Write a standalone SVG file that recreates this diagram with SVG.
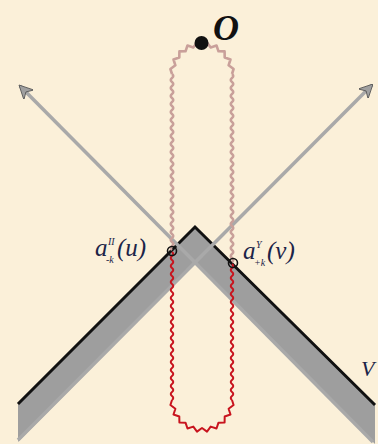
<svg xmlns="http://www.w3.org/2000/svg" width="378" height="444" viewBox="0 0 378 444">
<defs>
<style>
.axis{stroke:#a9a9a9;stroke-width:3.5;fill:none}
.pink{stroke:#c9a09a;stroke-width:2.6;fill:none;stroke-linejoin:round}
.red{stroke:#c8141e;stroke-width:2;fill:none;stroke-linejoin:round}
.lbl{font-family:"Liberation Serif",serif;font-style:italic;fill:#1c2448}
.big{font-size:25px}
.small{font-size:10px}
</style>
<marker id="arr" viewBox="0 0 10 10" refX="9" refY="5" markerWidth="4" markerHeight="4" orient="auto" markerUnits="strokeWidth">
<path d="M0 0 L10 5 L0 10 L3 5 Z" fill="#a0a0a0" stroke="#555" stroke-width="0.6"/>
</marker>
<polyline id="arc" points="-30,0 -31.6,5 -26.6,8.7 -28.5,14.5 -22.7,16.5 -22.6,22.6 -16.5,22.7 -14.5,28.5 -8.7,26.6 -5,31.6 0,28 5,31.6 8.7,26.6 14.5,28.5 16.5,22.7 22.6,22.6 22.7,16.5 28.5,14.5 26.6,8.7 31.6,5 30,0"/>
</defs>
<rect width="378" height="444" fill="#fbf0d9"/>
<g id="wedge">
<polygon points="18,404 195,227 375,405 375,444 195,264 18,442" fill="#9e9e9e"/>
<polyline points="18,404 195,227 375,405" fill="none" stroke="#111" stroke-width="3"/>
</g>
<g id="connectors">
<line class="axis" x1="373" y1="442" x2="20" y2="86" marker-end="url(#arr)"/>
<line class="axis" x1="18" y1="440" x2="372" y2="85" marker-end="url(#arr)"/>
<path class="pink" d="M172 74 q2.5 2 0 4 t0 4 t0 4 t0 4 t0 4 t0 4 t0 4 t0 4 t0 4 t0 4 t0 4 t0 4 t0 4 t0 4 t0 4 t0 4 t0 4 t0 4 t0 4 t0 4 t0 4 t0 4 t0 4 t0 4 t0 4 t0 4 t0 4 t0 4 t0 4 t0 4 t0 4 t0 4 t0 4 t0 4 t0 4 t0 4 t0 4 t0 4 t0 4 t0 4 t0 4 t0 4 t0 4 t0 4"/>
<path class="pink" d="M232 74 q2.5 2 0 4 t0 4 t0 4 t0 4 t0 4 t0 4 t0 4 t0 4 t0 4 t0 4 t0 4 t0 4 t0 4 t0 4 t0 4 t0 4 t0 4 t0 4 t0 4 t0 4 t0 4 t0 4 t0 4 t0 4 t0 4 t0 4 t0 4 t0 4 t0 4 t0 4 t0 4 t0 4 t0 4 t0 4 t0 4 t0 4 t0 4 t0 4 t0 4 t0 4 t0 4 t0 4 t0 4 t0 4 t0 4 t0 4 t0 4"/>
<use href="#arc" class="pink" transform="translate(202,74) scale(1,-1)"/>
<path class="red" d="M172 252 q2.5 2 0 4 t0 4 t0 4 t0 4 t0 4 t0 4 t0 4 t0 4 t0 4 t0 4 t0 4 t0 4 t0 4 t0 4 t0 4 t0 4 t0 4 t0 4 t0 4 t0 4 t0 4 t0 4 t0 4 t0 4 t0 4 t0 4 t0 4 t0 4 t0 4 t0 4 t0 4 t0 4 t0 4 t0 4 t0 4 t0 4 t0 4"/>
<path class="red" d="M232 264 q2.5 2 0 4 t0 4 t0 4 t0 4 t0 4 t0 4 t0 4 t0 4 t0 4 t0 4 t0 4 t0 4 t0 4 t0 4 t0 4 t0 4 t0 4 t0 4 t0 4 t0 4 t0 4 t0 4 t0 4 t0 4 t0 4 t0 4 t0 4 t0 4 t0 4 t0 4 t0 4 t0 4 t0 4 t0 4"/>
<use href="#arc" class="red" transform="translate(202,400)"/>
</g>
<g id="node-O">
<circle cx="201.5" cy="43" r="7" fill="#111"/>
<text x="213" y="40" font-family="Liberation Serif, serif" font-style="italic" font-weight="bold" font-size="36" fill="#111">O</text>
</g>
<g id="node-u">
<circle cx="172" cy="251" r="4.5" fill="none" stroke="#111" stroke-width="1.6"/>
<text class="lbl big" x="95" y="256">a</text>
<text class="lbl small" x="108" y="245">II</text>
<text class="lbl small" x="106" y="263">-k</text>
<text class="lbl big" x="117" y="256">(u)</text>
</g>
<g id="node-v">
<circle cx="233" cy="263" r="4.5" fill="none" stroke="#111" stroke-width="1.6"/>
<text class="lbl big" x="243" y="259">a</text>
<text class="lbl small" x="256" y="248">Y</text>
<text class="lbl small" x="254" y="266">+k</text>
<text class="lbl big" x="267" y="259">(v)</text>
</g>
<text class="lbl" x="361" y="376" font-size="22">V</text>
</svg>
